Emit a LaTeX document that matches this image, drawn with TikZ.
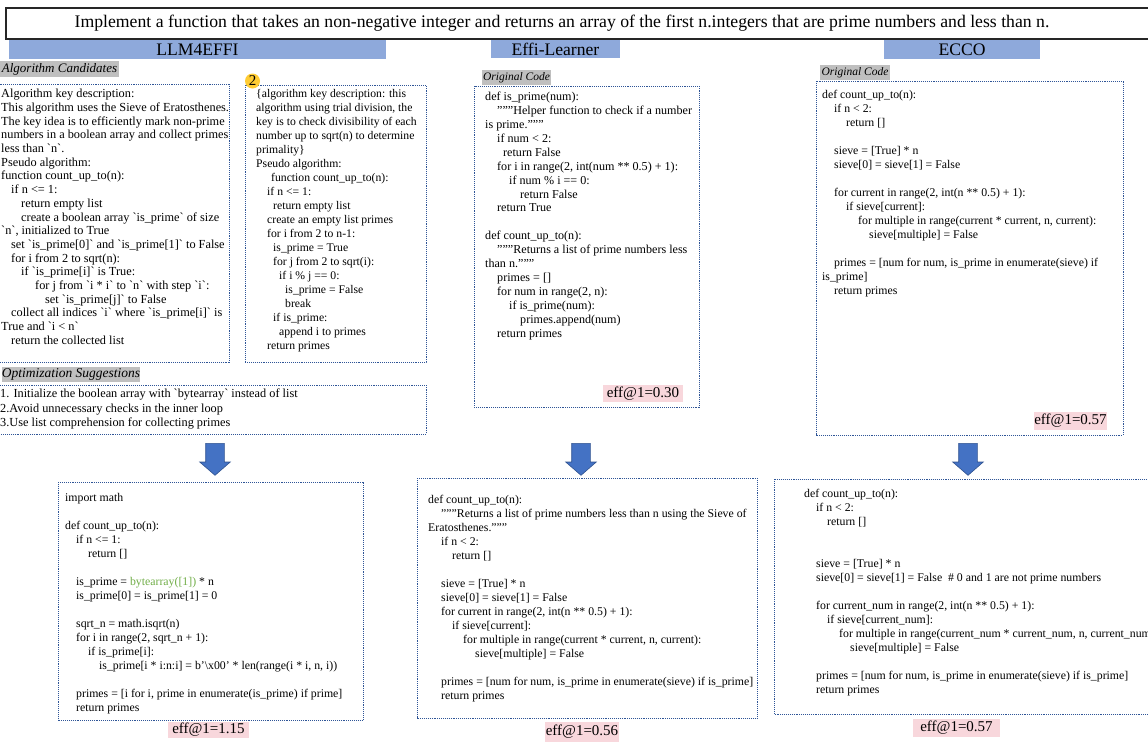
\documentclass[tikz,border=0pt]{standalone}
\usepackage{fontspec}
\setmainfont{Liberation Serif}
\usetikzlibrary{shapes.arrows}
\definecolor{frameColor}{RGB}{47,85,151}
\definecolor{headerColor}{RGB}{142,169,219}
\definecolor{tagColor}{RGB}{191,191,191}
\definecolor{effColor}{RGB}{248,215,220}
\definecolor{arrowColor}{RGB}{68,114,196}
\definecolor{arrowEdgeColor}{RGB}{47,82,143}
\definecolor{badgeColor}{RGB}{255,204,51}
\definecolor{codeGreen}{RGB}{112,173,71}
\tikzstyle{sheet} = [x = 1pt, y = -1pt]
\tikzstyle{titleFrame} = [color=black!85, line width=1.2pt]
\tikzstyle{titleText} = [inner sep=0pt, font=\fontsize{17.7}{18}\selectfont]
\tikzstyle{codeFrameStyle} = [color=frameColor, densely dotted, line width=.9pt]
\tikzstyle{codeText} = [anchor=north west, inner sep=0pt, align=left, font=\fontsize{11.8}{14}\selectfont]
\tikzstyle{headerText} = [midway, text=black, inner sep=0pt, font=\fontsize{17.6}{18}\selectfont]
\tikzstyle{tagText} = [midway, text=black, inner sep=0pt]
\tikzstyle{effText} = [midway, text=black, inner sep=0pt, font=\fontsize{15}{15}\selectfont]
\tikzstyle{downArrow} = [single arrow, rotate=-90, anchor=tail, fill=arrowColor, draw=arrowEdgeColor, line width=.6pt, inner xsep=0pt, inner ysep=9pt, single arrow head extend=6pt, single arrow tip angle=98, minimum height=32pt]
\tikzstyle{badge} = [circle, fill=badgeColor, inner sep=0pt, minimum size=15pt, font=\fontsize{15}{15}\selectfont]
\newcommand{\ind}[1]{\hspace*{#1pt}}
\newcommand{\bq}{\textasciigrave}
\newcommand{\codeFrame}[4]{\draw [codeFrameStyle] (#1, #2) rectangle (#3, #4);}
\newcommand{\headerBar}[6]{\fill [headerColor] (#2, #3) rectangle (#4, #5) node [headerText] (#1) {#6};}
\newcommand{\tagLabel}[7]{\fill [tagColor] (#2, #3) rectangle (#4, #5) node [tagText, font=\fontsize{#6}{#6}\selectfont\itshape] (#1) {#7};}
\newcommand{\effLabel}[6]{\fill [effColor] (#2, #3) rectangle (#4, #5) node [effText] (#1) {eff@1=#6};}
\newcommand{\downArrowAt}[2]{\node [downArrow] (#1) at (#2, 443) {};}

\begin{document}
\begin{tikzpicture}[sheet]
  \useasboundingbox (0, 0) rectangle (1148, 742);
  \draw [titleFrame] (6, 8) rectangle (1170, 39);
  \node [titleText] (task) at (562, 23.5) {Implement a function that takes an non-negative integer and returns an array of the first n.integers that are prime numbers and less than n.};

  \headerBar{llmHeader}{9}{40}{386}{59}{LLM4EFFI}
  \headerBar{effiHeader}{491}{40}{620}{58}{Effi-Learner}
  \headerBar{eccoHeader}{884}{40}{1040}{59}{ECCO}

  \tagLabel{candidatesTag}{0}{61}{119}{77}{13}{Algorithm Candidates}
  \codeFrame{-1}{84}{229}{362}
  \node [codeText, font=\fontsize{12.3}{13.7}\selectfont] (candidateOne) at (1, 89) {Algorithm key description:\\
This algorithm uses the Sieve of Eratosthenes.\\
The key idea is to efficiently mark non-prime\\
numbers in a boolean array and collect primes\\
less than \bq n\bq.\\
Pseudo algorithm:\\
function count\_up\_to(n):\\
\ind{10}if n <= 1:\\
\ind{20}return empty list\\
\ind{20}create a boolean array \bq is\_prime\bq{} of size\\
\bq n\bq, initialized to True\\
\ind{10}set \bq is\_prime[0]\bq{} and \bq is\_prime[1]\bq{} to False\\
\ind{10}for i from 2 to sqrt(n):\\
\ind{20}if \bq is\_prime[i]\bq{} is True:\\
\ind{34}for j from \bq i * i\bq{} to \bq n\bq{} with step \bq i\bq:\\
\ind{44}set \bq is\_prime[j]\bq{} to False\\
\ind{10}collect all indices \bq i\bq{} where \bq is\_prime[i]\bq{} is\\
True and \bq i < n\bq\\
\ind{10}return the collected list};

  \codeFrame{245}{85}{426}{362}
  \node [badge] (badgeTwo) at (252.5, 81) {2};
  \node [codeText, font=\fontsize{11.7}{14}\selectfont] (candidateTwo) at (256, 89.5) {\{algorithm key description: this\\
algorithm using trial division, the\\
key is to check divisibility of each\\
number up to sqrt(n) to determine\\
primality\}\\
Pseudo algorithm:\\
\ind{15}function count\_up\_to(n):\\
\ind{11}if n <= 1:\\
\ind{17}return empty list\\
\ind{11}create an empty list primes\\
\ind{11}for i from 2 to n-1:\\
\ind{17}is\_prime = True\\
\ind{17}for j from 2 to sqrt(i):\\
\ind{23}if i \% j == 0:\\
\ind{29}is\_prime = False\\
\ind{29}break\\
\ind{17}if is\_prime:\\
\ind{23}append i to primes\\
\ind{11}return primes};

  \tagLabel{suggestionsTag}{2}{367}{140}{382}{13.5}{Optimization Suggestions}
  \codeFrame{-1}{385}{426}{434}
  \node [codeText, font=\fontsize{12.3}{14.5}\selectfont] (suggestions) at (0, 389) {1. Initialize the boolean array with \bq bytearray\bq{} instead of list\\
2.Avoid unnecessary checks in the inner loop\\
3.Use list comprehension for collecting primes};

  \downArrowAt{llmArrow}{215}
  \codeFrame{58}{482}{363}{720}
  \node [codeText] (llmCode) at (65, 493) {import math\\[14pt]
def count\_up\_to(n):\\
\ind{11}if n <= 1:\\
\ind{23}return []\\[14pt]
\ind{11}is\_prime = \textcolor{codeGreen}{bytearray([1])} * n\\
\ind{11}is\_prime[0] = is\_prime[1] = 0\\[14pt]
\ind{11}sqrt\_n = math.isqrt(n)\\
\ind{11}for i in range(2, sqrt\_n + 1):\\
\ind{23}if is\_prime[i]:\\
\ind{34}is\_prime[i * i:n:i] = b'\textbackslash x00' * len(range(i * i, n, i))\\[14pt]
\ind{11}primes = [i for i, prime in enumerate(is\_prime) if prime]\\
\ind{11}return primes};
  \effLabel{llmEff}{168}{722}{249}{738}{1.15}

  \tagLabel{effiTag}{482}{70}{551}{85}{11.5}{Original Code}
  \codeFrame{474}{86}{699}{407}
  \node [codeText, font=\fontsize{12.1}{13.9}\selectfont] (effiOriginal) at (485, 92) {def is\_prime(num):\\
\ind{12}"""Helper function to check if a number\\
is prime."""\\
\ind{12}if num < 2:\\
\ind{18}return False\\
\ind{12}for i in range(2, int(num ** 0.5) + 1):\\
\ind{24}if num \% i == 0:\\
\ind{35}return False\\
\ind{12}return True\\[13.9pt]
def count\_up\_to(n):\\
\ind{12}"""Returns a list of prime numbers less\\
than n."""\\
\ind{12}primes = []\\
\ind{12}for num in range(2, n):\\
\ind{24}if is\_prime(num):\\
\ind{35}primes.append(num)\\
\ind{12}return primes};
  \effLabel{effiEffOriginal}{603}{385}{683}{402}{0.30}

  \downArrowAt{effiArrow}{581}
  \codeFrame{417}{478}{757}{718}
  \node [codeText] (effiCode) at (428, 495) {def count\_up\_to(n):\\
\ind{13}"""Returns a list of prime numbers less than n using the Sieve of\\
Eratosthenes."""\\
\ind{13}if n < 2:\\
\ind{24}return []\\[14pt]
\ind{13}sieve = [True] * n\\
\ind{13}sieve[0] = sieve[1] = False\\
\ind{13}for current in range(2, int(n ** 0.5) + 1):\\
\ind{24}if sieve[current]:\\
\ind{35}for multiple in range(current * current, n, current):\\
\ind{47}sieve[multiple] = False\\[14pt]
\ind{13}primes = [num for num, is\_prime in enumerate(sieve) if is\_prime]\\
\ind{13}return primes};
  \effLabel{effiEff}{545}{722}{619}{742}{0.56}

  \tagLabel{eccoTag}{820}{65}{890}{80}{11.5}{Original Code}
  \codeFrame{816}{81}{1123}{435}
  \node [codeText] (eccoOriginal) at (822, 90) {def count\_up\_to(n):\\
\ind{12}if n < 2:\\
\ind{24}return []\\[14pt]
\ind{12}sieve = [True] * n\\
\ind{12}sieve[0] = sieve[1] = False\\[14pt]
\ind{12}for current in range(2, int(n ** 0.5) + 1):\\
\ind{24}if sieve[current]:\\
\ind{36}for multiple in range(current * current, n, current):\\
\ind{47}sieve[multiple] = False\\[14pt]
\ind{12}primes = [num for num, is\_prime in enumerate(sieve) if\\
is\_prime]\\
\ind{12}return primes};
  \effLabel{eccoEffOriginal}{1034}{412}{1107}{430}{0.57}

  \downArrowAt{eccoArrow}{968}
  \codeFrame{774}{479}{1170}{714}
  \node [codeText] (eccoCode) at (804, 489) {def count\_up\_to(n):\\
\ind{12}if n < 2:\\
\ind{23}return []\\[28pt]
\ind{12}sieve = [True] * n\\
\ind{12}sieve[0] = sieve[1] = False\ \ \# 0 and 1 are not prime numbers\\[14pt]
\ind{12}for current\_num in range(2, int(n ** 0.5) + 1):\\
\ind{23}if sieve[current\_num]:\\
\ind{35}for multiple in range(current\_num * current\_num, n, current\_num):\\
\ind{46}sieve[multiple] = False\\[14pt]
\ind{12}primes = [num for num, is\_prime in enumerate(sieve) if is\_prime]\\
\ind{12}return primes};
  \effLabel{eccoEff}{913}{719}{1000}{737}{0.57}
\end{tikzpicture}
\end{document}
